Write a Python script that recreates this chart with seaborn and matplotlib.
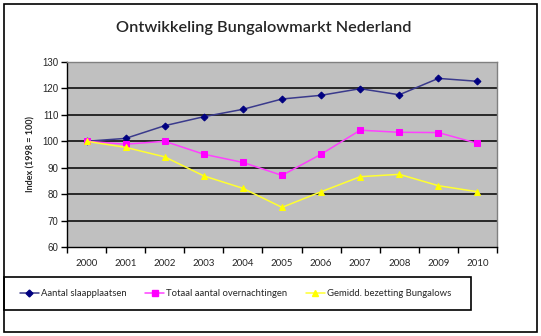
import matplotlib
matplotlib.use("Agg")
import matplotlib.pyplot as plt
from matplotlib.patches import Rectangle
from matplotlib.lines import Line2D
import seaborn as sns
import pandas as pd
import numpy as np

years = ["2000", "2001", "2002", "2003", "2004", "2005", "2006", "2007", "2008", "2009", "2010"]
slaapplaatsen = [100, 101.1, 105.9, 109.3, 112.1, 116.0, 117.4, 119.9, 117.6, 123.8, 122.7]
overnachtingen = [100, 98.9, 100.0, 95.1, 92.0, 87.1, 95.1, 104.2, 103.4, 103.3, 99.2]
bezetting = [100, 97.7, 94.1, 86.9, 82.2, 75.0, 80.9, 86.6, 87.5, 83.2, 80.9]
series_names = ["Aantal slaapplaatsen", "Totaal aantal overnachtingen", "Gemidd. bezetting Bungalows"]
yticks = [60, 70, 80, 90, 100, 110, 120, 130]

sns.set_theme(style="white")
plt.rcParams["font.family"] = ["Lato", "DejaVu Sans"]

fig = plt.figure(figsize=(5.41, 3.36), dpi=100)
W, H = 541, 336

def fx(px):
    return px / W

def fy(py):
    return 1 - py / H

# outer border
fig.patches.append(Rectangle((fx(3.5), fy(332)), fx(537) - fx(3.5), fy(3.5) - fy(332),
                             transform=fig.transFigure, fill=False, edgecolor="black", lw=1.2))

ax = fig.add_axes([fx(67), fy(247), fx(497) - fx(67), fy(62) - fy(247)])
ax.set_facecolor("#c0c0c0")

df = pd.DataFrame({
    "x": list(range(len(years))) * 3,
    "value": slaapplaatsen + overnachtingen + bezetting,
    "serie": [series_names[0]] * len(years) + [series_names[1]] * len(years) + [series_names[2]] * len(years),
})

colors = {series_names[0]: "#000080", series_names[1]: "#ff00ff", series_names[2]: "#ffff00"}
line_colors = {series_names[0]: "#3a3a8c", series_names[1]: "#ff40ff", series_names[2]: "#ffff30"}
markers = {series_names[0]: "D", series_names[1]: "s", series_names[2]: "^"}
msizes = {series_names[0]: 3.5, series_names[1]: 4.5, series_names[2]: 5}

for s in series_names:
    sub = df[df["serie"] == s]
    sns.lineplot(data=sub, x="x", y="value", ax=ax, color=line_colors[s], lw=1.1,
                 marker=markers[s], markersize=msizes[s], markerfacecolor=colors[s],
                 markeredgecolor=colors[s], legend=False, zorder=3)

ax.set_xlim(-0.5, len(years) - 0.5)
ax.set_ylim(60, 130)
ax.set_yticks(yticks)
ax.set_yticklabels([str(t) for t in yticks], fontsize=7, family=["Liberation Sans"])
for t in yticks[1:-1]:
    ax.axhline(t, color="black", lw=1.1, zorder=1)

ax.set_xticks(np.arange(-0.5, len(years), 1.0))
ax.set_xticklabels([])
ax.set_xticks(range(len(years)), minor=True)
ax.set_xticklabels(years, minor=True, fontsize=7)
ax.tick_params(axis="x", which="major", direction="out", length=4, width=1, color="black", bottom=True)
ax.tick_params(axis="x", which="minor", length=0, pad=9)
ax.tick_params(axis="y", direction="out", length=4, width=1, color="black", left=True, pad=2)
ax.set_xlabel("")
ax.set_ylabel("Index (1998 = 100)", fontsize=6.5, fontweight="bold", labelpad=5)

for side in ["top", "right"]:
    ax.spines[side].set_color("#808080")
    ax.spines[side].set_linewidth(1)
for side in ["left", "bottom"]:
    ax.spines[side].set_color("black")
    ax.spines[side].set_linewidth(1)
    ax.spines[side].set_visible(True)

fig.text(fx(264), fy(28), "Ontwikkeling Bungalowmarkt Nederland", ha="center", va="center",
         fontsize=11.7, fontweight="semibold")

# legend box
fig.patches.append(Rectangle((fx(3.5), fy(310)), fx(471) - fx(3.5), fy(277) - fy(310),
                             transform=fig.transFigure, fill=False, edgecolor="black", lw=1.2))
handles = [Line2D([0], [0], color=line_colors[s], lw=1.1, marker=markers[s],
                  markersize=msizes[s], markerfacecolor=colors[s], markeredgecolor=colors[s])
           for s in series_names]
fig.legend(handles, series_names, loc="center left", bbox_to_anchor=(fx(16), fy(294)),
           ncol=3, frameon=False, fontsize=6.8, handlelength=2.0, handletextpad=0.2,
           columnspacing=2.0, borderaxespad=0)

fig.savefig("out.png", dpi=100)
